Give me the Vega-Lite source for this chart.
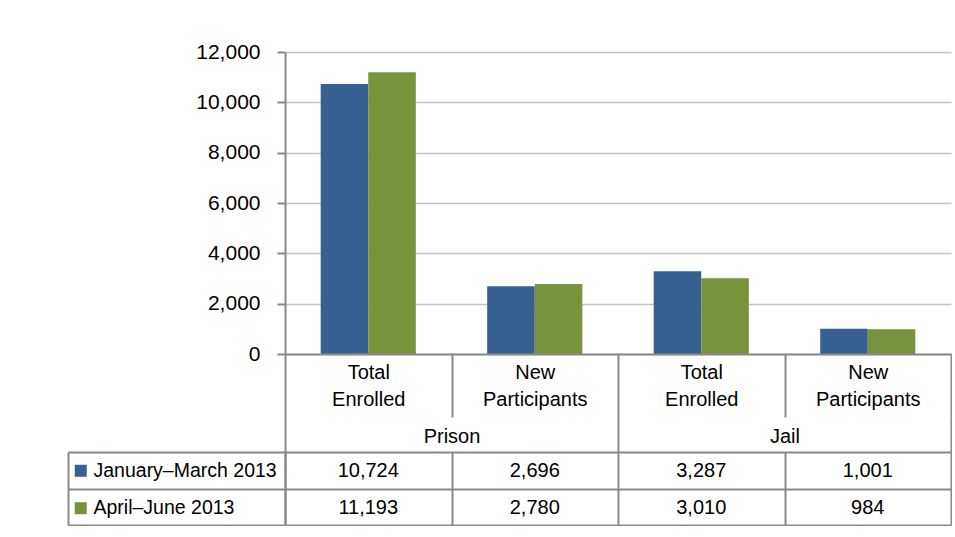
{
  "$schema": "https://vega.github.io/schema/vega-lite/v6.json",
  "background": "white",
  "padding": {"left": 67, "top": 41, "right": 0, "bottom": 0},
  "config": {
    "font": "Liberation Sans",
    "view": {"stroke": null},
    "axis": {"labelFont": "Liberation Sans", "labelColor": "black"},
    "legend": {"labelFont": "Liberation Sans", "labelColor": "black"}
  },
  "data": {
    "values": [
      {"col": "Prison|Total Enrolled", "group": "Prison", "series": "January–March 2013", "value": 10724},
      {"col": "Prison|Total Enrolled", "group": "Prison", "series": "April–June 2013", "value": 11193},
      {"col": "Prison|New Participants", "group": "Prison", "series": "January–March 2013", "value": 2696},
      {"col": "Prison|New Participants", "group": "Prison", "series": "April–June 2013", "value": 2780},
      {"col": "Jail|Total Enrolled", "group": "Jail", "series": "January–March 2013", "value": 3287},
      {"col": "Jail|Total Enrolled", "group": "Jail", "series": "April–June 2013", "value": 3010},
      {"col": "Jail|New Participants", "group": "Jail", "series": "January–March 2013", "value": 1001},
      {"col": "Jail|New Participants", "group": "Jail", "series": "April–June 2013", "value": 984}
    ]
  },
  "bounds": "flush",
  "spacing": 98,
  "vconcat": [
    {
      "width": 666,
      "height": 302,
      "layer": [
        {
          "mark": {"type": "bar"},
          "encoding": {
            "x": {
              "field": "col", "type": "nominal",
              "sort": ["Prison|Total Enrolled", "Prison|New Participants", "Jail|Total Enrolled", "Jail|New Participants"],
              "scale": {"paddingInner": 0, "paddingOuter": 0},
              "axis": {
                "orient": "bottom", "title": null, "zindex": 1,
                "domainColor": "#898989", "domainWidth": 2,
                "tickBand": "extent", "tickSize": 63, "tickColor": "#898989", "tickWidth": 2,
                "labelExpr": "datum.label ? split(split(datum.label, '|')[1], ' ') : ''",
                "labelFontSize": 20, "labelLineHeight": 27, "labelAngle": 0,
                "labelAlign": "center", "labelBaseline": "top", "labelPadding": -55,
                "labelOverlap": false, "labelLimit": 0
              }
            },
            "xOffset": {
              "field": "series", "type": "nominal",
              "sort": ["January–March 2013", "April–June 2013"],
              "scale": {"paddingInner": 0, "paddingOuter": 0.75}
            },
            "y": {
              "field": "value", "type": "quantitative",
              "scale": {"domain": [0, 12000], "nice": false},
              "axis": {
                "title": null, "values": [0, 2000, 4000, 6000, 8000, 10000, 12000], "format": ",d",
                "labelFontSize": 21, "labelPadding": 17,
                "domainColor": "#898989", "domainWidth": 2,
                "tickSize": 8, "tickColor": "#898989", "tickWidth": 2,
                "grid": true, "gridColor": "#c3c3c3", "gridWidth": 1.5
              }
            },
            "color": {
              "field": "series", "type": "nominal",
              "sort": ["January–March 2013", "April–June 2013"],
              "scale": {"range": ["#376092", "#77933c"]},
              "legend": {
                "title": null, "orient": "none", "legendX": -214, "legendY": 409,
                "symbolType": "square", "symbolSize": 144, "symbolStrokeWidth": 0,
                "labelFontSize": 19.5, "labelOffset": 3, "rowPadding": 16.5, "padding": 0,
                "labelLimit": 0
              }
            }
          }
        },
        {
          "mark": {"type": "point", "opacity": 0},
          "encoding": {
            "x": {
              "field": "group", "type": "nominal", "sort": ["Prison", "Jail"],
              "scale": {"paddingInner": 0, "paddingOuter": 0},
              "axis": {
                "orient": "bottom", "offset": 63, "title": null, "domain": false, "zindex": 1,
                "tickBand": "extent", "tickSize": 35, "tickColor": "#898989", "tickWidth": 2,
                "labelFontSize": 20, "labelAngle": 0, "labelAlign": "center",
                "labelBaseline": "top", "labelPadding": -26
              }
            }
          }
        }
      ],
      "resolve": {"scale": {"x": "independent"}, "axis": {"x": "independent"}}
    },
    {
      "width": 666,
      "height": 73,
      "layer": [
        {
          "mark": {"type": "text", "fontSize": 20, "color": "black", "dy": 1},
          "encoding": {
            "x": {
              "field": "col", "type": "nominal",
              "sort": ["Prison|Total Enrolled", "Prison|New Participants", "Jail|Total Enrolled", "Jail|New Participants"],
              "scale": {"paddingInner": 0, "paddingOuter": 0},
              "axis": {
                "title": null, "labels": false, "ticks": false, "domain": false,
                "grid": true, "tickBand": "extent", "gridColor": "#898989", "gridWidth": 2
              }
            },
            "y": {
              "field": "series", "type": "nominal",
              "sort": ["January–March 2013", "April–June 2013"],
              "scale": {"paddingInner": 0, "paddingOuter": 0},
              "axis": {
                "title": null, "labels": false,
                "domain": true, "domainColor": "#898989", "domainWidth": 2,
                "tickBand": "extent", "tickSize": 217, "tickColor": "#898989", "tickWidth": 2,
                "grid": true, "gridColor": "#898989", "gridWidth": 2
              }
            },
            "text": {"field": "value", "type": "quantitative", "format": ","}
          }
        },
        {
          "mark": {"type": "point", "opacity": 0},
          "encoding": {
            "y": {
              "field": "series", "type": "nominal",
              "sort": ["January–March 2013", "April–June 2013"],
              "scale": {"paddingInner": 0, "paddingOuter": 0},
              "axis": {
                "orient": "left", "offset": 217, "title": null, "labels": false, "ticks": false, "grid": false,
                "domain": true, "domainColor": "#898989", "domainWidth": 2
              }
            }
          }
        }
      ],
      "resolve": {"scale": {"y": "independent"}, "axis": {"y": "independent"}}
    }
  ]
}
